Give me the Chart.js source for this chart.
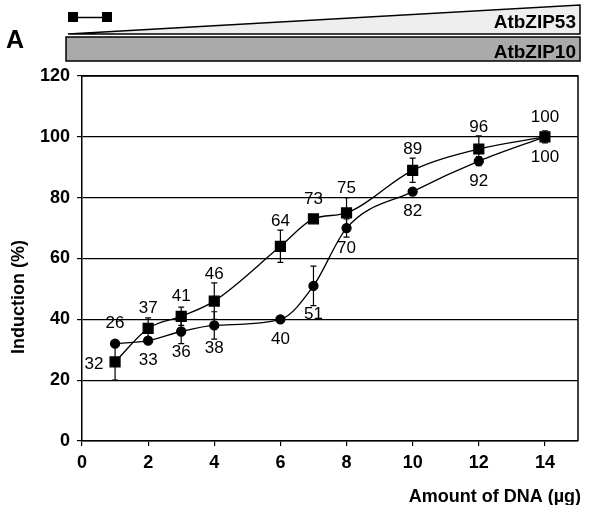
<!DOCTYPE html>
<html>
<head>
<meta charset="utf-8">
<script src="https://cdn.jsdelivr.net/npm/chart.js@4.4.1/dist/chart.umd.min.js"></script>
<style>
  html, body { margin: 0; padding: 0; background: #fff; }
  #wrap { width: 589px; height: 505px; }
</style>
</head>
<body>
<div id="wrap"><canvas id="chart" width="589" height="505"></canvas></div>
<script>
// ---- data ----
const doses = [1, 2, 3, 4, 6, 7, 8, 10, 12, 14];

// square series
const squareVals = [26, 37, 41, 46, 64, 73, 75, 89, 96, 100];
const squareErr = [6, 3.5, 3, 6, 5.3, 1, 5, 4, 4.3, 2];
const squareLabels = ['32', '37', '41', '46', '64', '73', '75', '89', '96', '100'];

// circle series
const circleVals = [32, 33, 36, 38, 40, 51, 70, 82, 92, 100];
const circleErr = [1, 1, 4, 4.5, 1, 6.5, 3, 1, 1.5, 1.5];
const circleLabels = ['26', '33', '36', '38', '40', '51', '70', '82', '92', '100'];

const yTicks = [0, 20, 40, 60, 80, 100, 120];
const xTicks = [0, 2, 4, 6, 8, 10, 12, 14];

const FONT = 'Arial, "Liberation Sans", Helvetica, sans-serif';

// where each value label sits relative to its point
const squareLabelPos = ['left', 'above', 'above', 'above', 'above', 'above', 'above', 'above', 'above', 'above'];
const circleLabelPos = ['above', 'below', 'below', 'below', 'below', 'below', 'below', 'below', 'below', 'below'];

const toXY = vals => vals.map((v, i) => ({ x: doses[i], y: v }));

// error bars + value labels
const errorBarPlugin = {
  id: 'errorBars',
  afterDatasetsDraw(chart) {
    const { ctx, scales: { x, y } } = chart;
    const sets = [
      { vals: squareVals, err: squareErr, labels: squareLabels, pos: squareLabelPos },
      { vals: circleVals, err: circleErr, labels: circleLabels, pos: circleLabelPos }
    ];
    ctx.save();
    ctx.strokeStyle = '#000';
    ctx.lineWidth = 1.2;
    sets.forEach(s => {
      s.vals.forEach((v, i) => {
        const px = x.getPixelForValue(doses[i]);
        const top = y.getPixelForValue(v + s.err[i]);
        const bot = y.getPixelForValue(v - s.err[i]);
        ctx.beginPath();
        ctx.moveTo(px, top); ctx.lineTo(px, bot);
        ctx.moveTo(px - 3, top); ctx.lineTo(px + 3, top);
        ctx.moveTo(px - 3, bot); ctx.lineTo(px + 3, bot);
        ctx.stroke();
      });
    });
    ctx.fillStyle = '#000';
    ctx.font = '17px ' + FONT;
    ctx.textAlign = 'center';
    ctx.textBaseline = 'middle';
    sets.forEach(s => {
      s.vals.forEach((v, i) => {
        const px = x.getPixelForValue(doses[i]);
        const py = y.getPixelForValue(v);
        const top = y.getPixelForValue(v + s.err[i]);
        const bot = y.getPixelForValue(v - s.err[i]);
        let lx = px, ly = py;
        if (s.pos[i] === 'above') ly = Math.min(py - 20, top - 9);
        else if (s.pos[i] === 'below') ly = Math.max(py + 20, bot + 9);
        else { lx = px - 21; ly = py + 2; }
        ctx.fillText(s.labels[i], lx, ly);
      });
    });
    ctx.restore();
  }
};

// header (panel letter, construct bars), box and axis titles
const decorPlugin = {
  id: 'decor',
  afterDraw(chart) {
    const { ctx, chartArea: a } = chart;
    ctx.save();
    ctx.strokeStyle = '#000';
    ctx.fillStyle = '#000';

    // plot box (top and right sides)
    ctx.lineWidth = 1.5;
    ctx.beginPath();
    ctx.moveTo(a.left, a.top); ctx.lineTo(a.right, a.top); ctx.lineTo(a.right, a.bottom);
    ctx.stroke();

    // panel letter
    ctx.font = 'bold 25px ' + FONT;
    ctx.textAlign = 'left';
    ctx.textBaseline = 'alphabetic';
    ctx.fillText('A', 6, 48);

    // legend icon: square - line - square
    ctx.lineWidth = 1.5;
    ctx.beginPath(); ctx.moveTo(73, 17.5); ctx.lineTo(107, 17.5); ctx.stroke();
    ctx.fillRect(68, 12, 10, 10);
    ctx.fillRect(102, 12, 10, 10);

    // rising triangle (AtbZIP53)
    ctx.beginPath();
    ctx.moveTo(68, 34); ctx.lineTo(580, 5); ctx.lineTo(580, 34); ctx.closePath();
    ctx.fillStyle = '#eeeeee';
    ctx.fill();
    ctx.stroke();

    // constant bar (AtbZIP10)
    ctx.fillStyle = '#aaaaaa';
    ctx.fillRect(66, 37, 514, 24);
    ctx.strokeRect(66, 37, 514, 24);

    ctx.fillStyle = '#000';
    ctx.font = 'bold 19px ' + FONT;
    ctx.textAlign = 'right';
    ctx.fillText('AtbZIP53', 576, 28);
    ctx.fillText('AtbZIP10', 576, 58);

    // axis titles
    ctx.font = 'bold 18px ' + FONT;
    ctx.fillText('Amount of DNA (\u00b5g)', 581, 502);
    ctx.translate(24, 297);
    ctx.rotate(-Math.PI / 2);
    ctx.textAlign = 'center';
    ctx.fillText('Induction (%)', 0, 0);
    ctx.restore();
  }
};

new Chart(document.getElementById('chart'), {
  type: 'line',
  data: {
    datasets: [
      {
        label: 'AtbZIP53',
        data: toXY(squareVals),
        borderColor: '#000',
        backgroundColor: '#000',
        borderWidth: 1.3,
        pointStyle: 'rect',
        pointRadius: 7,
        cubicInterpolationMode: 'monotone'
      },
      {
        label: 'AtbZIP10',
        data: toXY(circleVals),
        borderColor: '#000',
        backgroundColor: '#000',
        borderWidth: 1.3,
        pointStyle: 'circle',
        pointRadius: 4.5,
        cubicInterpolationMode: 'monotone'
      }
    ]
  },
  options: {
    responsive: false,
    animation: false,
    layout: { padding: { top: 76, right: 11, left: 0, bottom: 0 } },
    plugins: { legend: { display: false }, tooltip: { enabled: false } },
    scales: {
      x: {
        type: 'linear',
        min: 0,
        max: 15,
        afterBuildTicks: s => { s.ticks = xTicks.map(v => ({ value: v })); },
        afterFit: s => { s.height = 64; },
        grid: { drawOnChartArea: false, drawTicks: true, tickLength: 5, color: '#000', lineWidth: 1.2 },
        border: { display: true, color: '#000', width: 1.5 },
        ticks: { color: '#000', font: { family: FONT, size: 18, weight: 'bold' }, padding: 6, maxRotation: 0 }
      },
      y: {
        min: 0,
        max: 120,
        afterBuildTicks: s => { s.ticks = yTicks.map(v => ({ value: v })); },
        afterFit: s => { s.width = 82; },
        grid: { color: '#000', lineWidth: 1.2, tickLength: 5 },
        border: { display: true, color: '#000', width: 1.5 },
        ticks: { color: '#000', font: { family: FONT, size: 18, weight: 'bold' }, padding: 7 }
      }
    }
  },
  plugins: [errorBarPlugin, decorPlugin]
});
</script>
</body>
</html>
